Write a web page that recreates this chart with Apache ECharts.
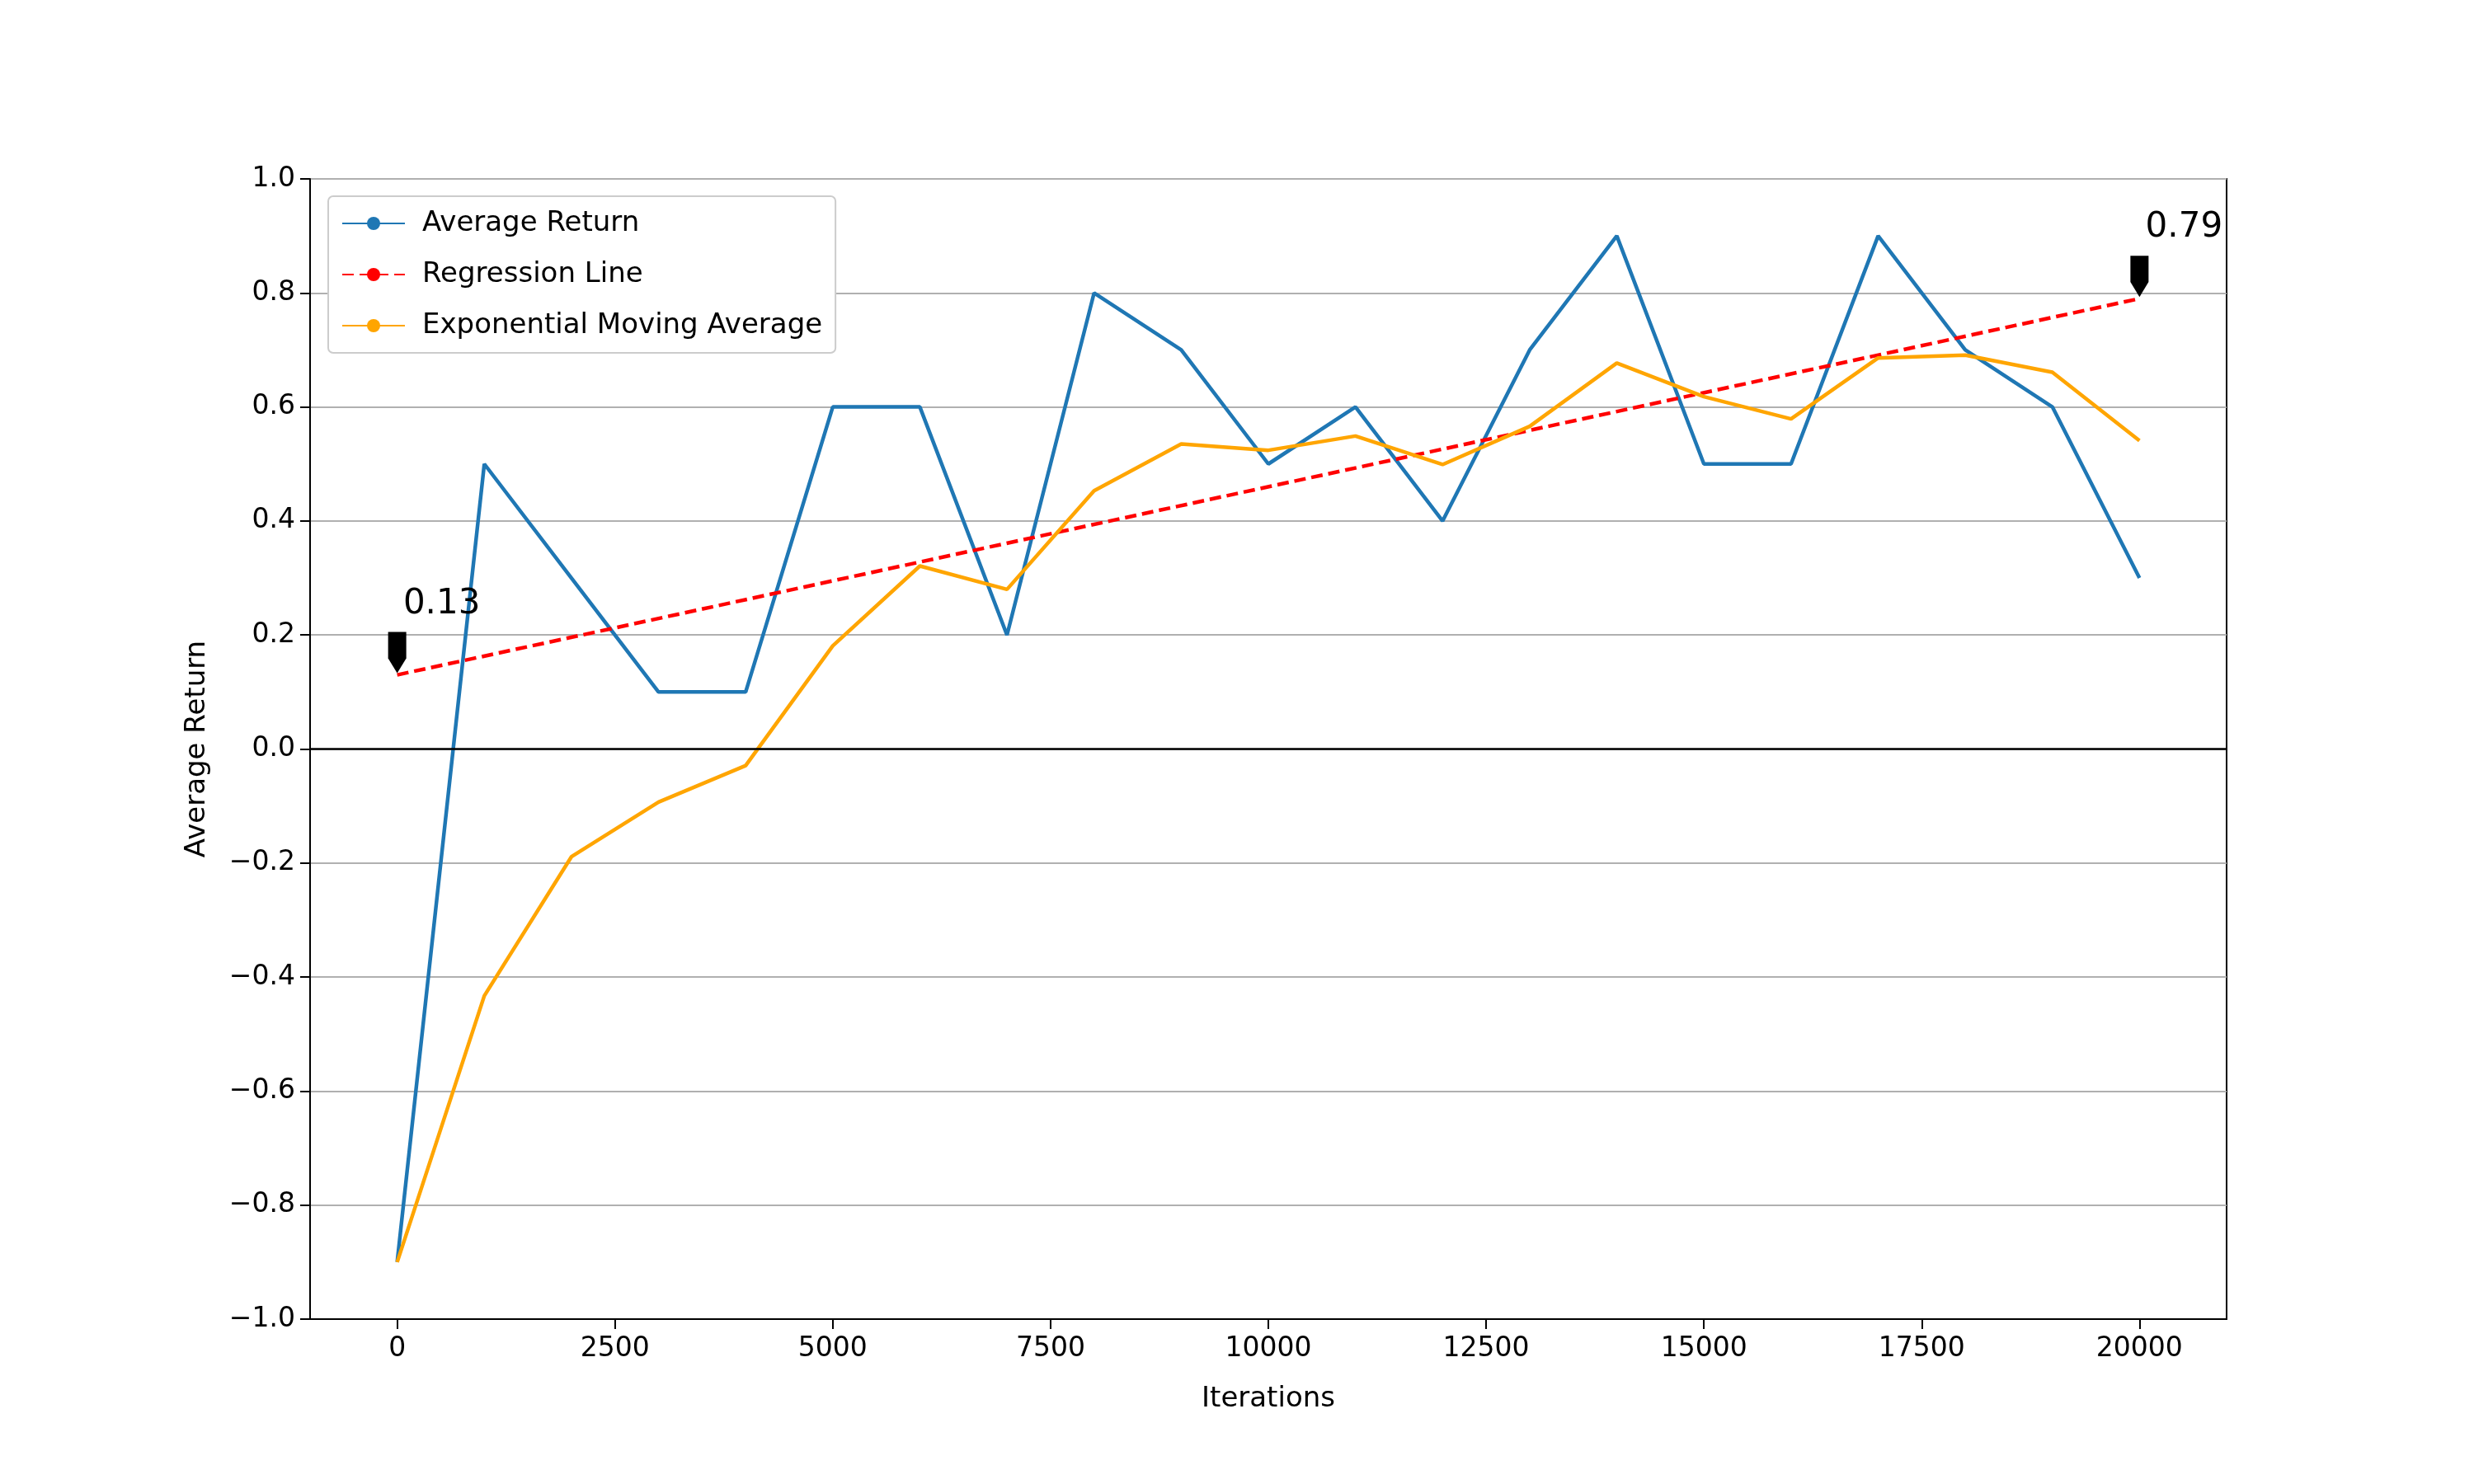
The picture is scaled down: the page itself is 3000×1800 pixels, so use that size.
<!DOCTYPE html>
<html><head><meta charset="utf-8">
<script src="https://cdn.jsdelivr.net/npm/echarts@6/dist/echarts.min.js"></script>
<style>html,body{margin:0;padding:0;background:#fff}#c{width:3000px;height:1800px}</style>
</head><body><div id="c"></div>
<script>
const iterations=[0,1000,2000,3000,4000,5000,6000,7000,8000,9000,10000,11000,12000,13000,14000,15000,16000,17000,18000,19000,20000];
const avgReturn=[-0.9,0.5,0.3,0.1,0.1,0.6,0.6,0.2,0.8,0.7,0.5,0.6,0.4,0.7,0.9,0.5,0.5,0.9,0.7,0.6,0.3];
const ema=[-0.9,-0.433,-0.189,-0.093,-0.029,0.181,0.321,0.280,0.453,0.535,0.524,0.549,0.499,0.566,0.677,0.618,0.579,0.686,0.691,0.661,0.541];
const regression=[[0,0.13],[20000,0.79]];
const xTicks=[0,2500,5000,7500,10000,12500,15000,17500,20000];
const font='DejaVu Sans';
const fmtY=v=>{const s=Math.abs(v).toFixed(1);return v<-1e-9?'\u2212'+s:s;};
const arrow='path://M0,0 L10,0 L10,14 L5,22 L0,14 Z';
const chart=echarts.init(document.getElementById('c'));
chart.setOption({
  animation:false,
  textStyle:{fontFamily:font},
  grid:{left:376,right:300,top:217,bottom:200,show:true,borderColor:'#000',borderWidth:2,containLabel:false},
  legend:{left:398,top:238,orient:'vertical',backgroundColor:'#fff',borderColor:'#ccc',borderWidth:2,borderRadius:6,
    padding:[16,16,16,16],itemGap:28,itemWidth:76,itemHeight:20,
    textStyle:{fontSize:34,color:'#000',fontFamily:font,padding:[0,0,0,16]},
    data:['Average Return','Regression Line','Exponential Moving Average']},
  xAxis:{type:'value',min:-1000,max:21000,name:'Iterations',nameLocation:'middle',nameGap:80,
    nameTextStyle:{fontSize:34,color:'#000'},
    axisLine:{show:true,onZero:false,lineStyle:{color:'#000',width:2}},splitLine:{show:false},
    axisTick:{show:true,length:12,lineStyle:{color:'#000',width:2},customValues:xTicks},
    axisLabel:{fontSize:33,color:'#000',margin:20,customValues:xTicks,formatter:v=>String(v)}},
  yAxis:{type:'value',min:-1,max:1,interval:0.2,name:'Average Return',nameLocation:'middle',nameGap:120,
    nameTextStyle:{fontSize:34,color:'#000'},
    axisLine:{show:true,onZero:false,lineStyle:{color:'#000',width:2}},
    axisTick:{show:true,length:12,lineStyle:{color:'#000',width:2}},
    splitLine:{show:true,lineStyle:{color:'#b0b0b0',width:2}},
    axisLabel:{fontSize:33,color:'#000',margin:18,formatter:fmtY}},
  series:[
    {name:'Average Return',type:'line',data:iterations.map((x,i)=>[x,avgReturn[i]]),symbol:'none',
     lineStyle:{color:'#1f77b4',width:4.5},itemStyle:{color:'#1f77b4'},
     markLine:{silent:true,symbol:'none',label:{show:false},lineStyle:{color:'#000',width:2.5,type:'solid'},data:[{yAxis:0}]}},
    {name:'Regression Line',type:'line',data:regression,symbol:'none',
     lineStyle:{color:'#ff0000',width:4.5,type:[14,7]},itemStyle:{color:'#ff0000'},z:3,
     markPoint:{symbol:arrow,symbolSize:[22,50],symbolOffset:[0,-27],itemStyle:{color:'#000'},
       label:{show:true,position:'top',offset:[54,-8],fontSize:42,color:'#000',formatter:p=>p.value.toFixed(2)},
       data:regression.map(d=>({coord:d,value:d[1]}))}},
    {name:'Exponential Moving Average',type:'line',data:iterations.map((x,i)=>[x,ema[i]]),symbol:'none',
     lineStyle:{color:'#ffa500',width:4.5},itemStyle:{color:'#ffa500'}}
  ]
});
</script></body></html>
